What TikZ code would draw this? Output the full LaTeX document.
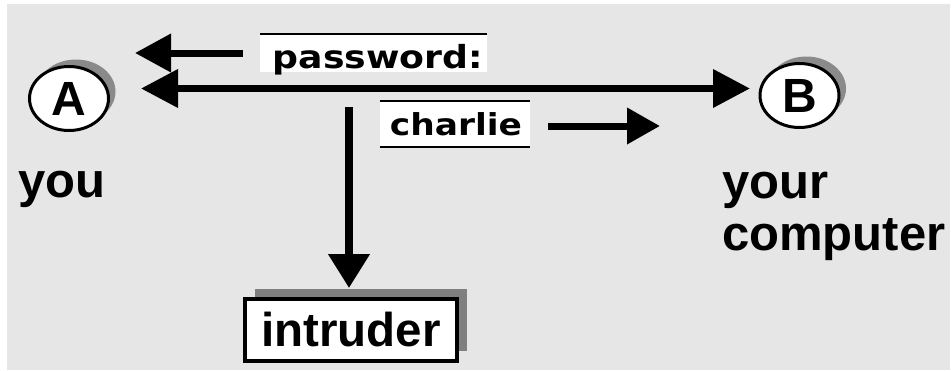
\documentclass[tikz,border=0pt]{standalone}
\usepackage{fontspec}
\setmainfont{Liberation Sans}
\newfontfamily\tagfont[FakeStretch=1.14]{DejaVu Sans}
\usetikzlibrary{arrows.meta,shapes.geometric,shadows}
\definecolor{panel}{HTML}{E6E6E6}
\definecolor{ovalshade}{HTML}{8A8A8A}
\definecolor{boxshade}{HTML}{7F7F7F}
\begin{document}
\begin{tikzpicture}[x=1pt,y=-1pt,
  arr/.style={line width=7pt,-{Triangle[length=36pt,width=37pt]}},
  twoway/.style={line width=7pt,{Triangle[length=37pt,width=37pt]}-{Triangle[length=37pt,width=37pt]}},
  station/.style={ellipse,draw,line width=3pt,fill=white,inner sep=0pt,
    minimum width=79pt,minimum height=64pt,
    font=\bfseries\fontsize{48}{48}\selectfont,
    drop shadow={shadow xshift=7pt,shadow yshift=7pt,fill=ovalshade,opacity=1}},
  caption/.style={inner sep=0pt,anchor=base west,font=\bfseries\fontsize{49}{52}\selectfont},
  tagbox/.style={rectangle,fill=white,inner sep=0pt},
  tagtext/.style={inner sep=0pt,anchor=base},
  rule/.style={line width=2pt},
  target/.style={rectangle,draw,line width=4pt,fill=white,inner sep=0pt,
    minimum width=212pt,minimum height=62pt,
    font=\bfseries\fontsize{47.5}{47.5}\selectfont,
    drop shadow={shadow xshift=10pt,shadow yshift=10pt,fill=boxshade,opacity=1}}]

% canvas
\useasboundingbox (0,0) rectangle (951,370);
\fill[white] (0,0) rectangle (951,370);
\fill[panel] (7,4) rectangle (950,370);

% the two ends of the line
\node[station] (A) at (69,98.5) {A};
\node[station] (B) at (799.5,95.5) {B};
\node[caption] (you) at (18,197) {you};
\node[caption] (comp) at (722,198)
  {\begin{tabular}[t]{@{}l@{}}your\\computer\end{tabular}};

% the eavesdropper
\node[target] (intr) at (351,330) {intruder};

% messages on the line
\node[tagbox,minimum width=227pt,minimum height=38pt] (pwbox) at (373.5,53) {};
\draw[rule] (pwbox.north west) -- (pwbox.north east);
\node[tagtext,font=\tagfont\bfseries\fontsize{31.8}{31.8}\selectfont] (pw) at (378,68) {password:};

\node[tagbox,minimum width=150pt,minimum height=46pt] (chbox) at (455,124) {};
\draw[rule] (chbox.north west) -- (chbox.north east);
\draw[rule] (chbox.south west) -- (chbox.south east);
\node[tagtext,font=\tagfont\bfseries\fontsize{30.2}{30.2}\selectfont] (ch) at (456,135) {charlie};

% arrows
\coordinate (lineL) at (141,88.5);
\coordinate (lineR) at (750,88.5);
\draw[twoway] (lineL) -- (lineR);

\coordinate (pwStart) at (243,53);
\coordinate (pwEnd) at (135,53);
\draw[arr] (pwStart) -- (pwEnd);

\coordinate (chStart) at (548,126);
\coordinate (chEnd) at (660,126);
\draw[arr,-{Triangle[length=33pt,width=35pt]}] (chStart) -- (chEnd);

\coordinate (tap) at (349,107);
\coordinate (tapEnd) at (349,288);
\draw[arr,line width=7.5pt,-{Triangle[length=34pt,width=40pt]}] (tap) -- (tapEnd);
\end{tikzpicture}
\end{document}
